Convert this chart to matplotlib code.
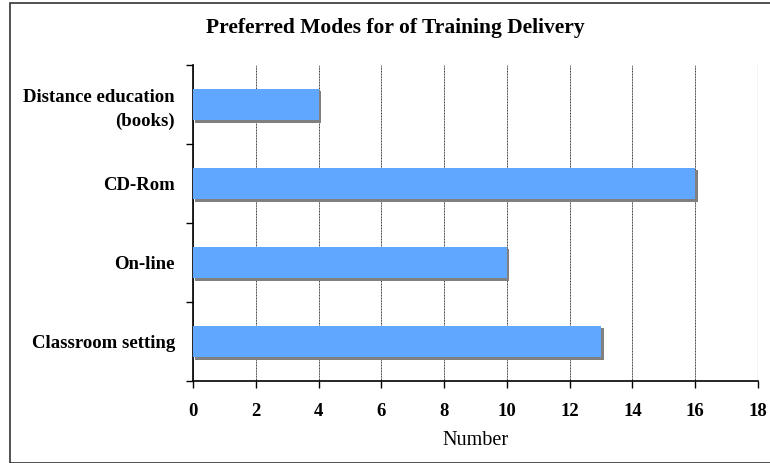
import matplotlib
matplotlib.use("Agg")
import matplotlib.pyplot as plt
import matplotlib.transforms as mtransforms
from matplotlib.patches import Rectangle

categories = ["Classroom setting", "On-line", "CD-Rom", "Distance education\n(books)"]
values = [13, 10, 16, 4]
xticks = [0, 2, 4, 6, 8, 10, 12, 14, 16, 18]

plt.rcParams['font.family'] = ['Liberation Serif', 'DejaVu Serif']

fig = plt.figure(figsize=(7.7, 4.63), dpi=100)
ax = fig.add_axes([193/770, 1 - 381/463, (758-193)/770, (381-65)/463])

# outer frame of the chart area
fig.patches.append(Rectangle((10/770, 0), 1, 1 - 3/463, transform=fig.transFigure,
                             fill=False, edgecolor='#333333', linewidth=1.2))

y = range(len(categories))
shadow = mtransforms.offset_copy(ax.transData, fig=fig, x=2.5, y=-2.5, units='dots')
ax.barh(y, values, height=0.4, color='#808080', transform=shadow, zorder=2)
ax.barh(y, values, height=0.4, color='#60A8FF', zorder=3)

ax.set_xlim(0, 18)
ax.set_ylim(-0.5, len(categories) - 0.5)
ax.set_xticks(xticks)
ax.set_xticklabels([str(t) for t in xticks], fontsize=13.5, fontweight='bold')
ax.set_yticks(list(y))
ax.set_yticklabels(categories, fontsize=13.5, fontweight='bold', linespacing=1.45)
ax.set_yticks([i - 0.5 for i in range(len(categories) + 1)], minor=True)
ax.tick_params(axis='y', which='major', length=0, pad=13)
ax.tick_params(axis='y', which='minor', length=5, width=1, direction='out')
ax.tick_params(axis='x', length=5, width=1, direction='out', pad=11)

ax.xaxis.grid(True, color='#333333', linewidth=0.7, linestyle=(0, (1, 0.6)))
ax.set_axisbelow(True)
for s in ['top', 'right']:
    ax.spines[s].set_visible(False)
ax.spines['left'].set_linewidth(1.2)
ax.spines['bottom'].set_linewidth(1.2)
ax.axvline(18, color='#333333', linewidth=0.8, zorder=1)

ax.set_xlabel('Number', fontsize=14.5, labelpad=8)
fig.text(395/770, 1 - 28/463, 'Preferred Modes for of Training Delivery',
         ha='center', va='center', fontsize=15.5, fontweight='bold')

fig.savefig('out.png', dpi=100)
